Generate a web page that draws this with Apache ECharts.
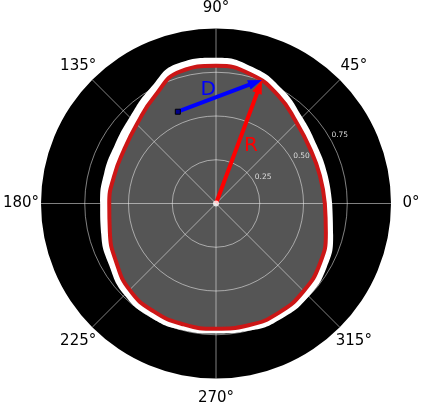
<!DOCTYPE html>
<html>
<head>
<meta charset="utf-8">
<script src="https://cdn.jsdelivr.net/npm/echarts@6/dist/echarts.min.js"></script>
<style>
html,body{margin:0;padding:0;background:#ffffff;}
#chart{width:423px;height:410px;}
</style>
</head>
<body>
<div id="chart"></div>
<script>
// ---- data ----
const angleTicks = [0, 45, 90, 135, 180, 225, 270, 315];
const radiusTicks = [0.25, 0.5, 0.75];
const shapeAngles = [0, 15, 30, 45, 60, 75, 90, 105, 120, 135, 150, 165, 180, 195, 210, 225, 240, 255, 270, 285, 300, 315, 330, 345, 360];
const boundaryR = [0.622, 0.615, 0.622, 0.652, 0.712, 0.765, 0.787, 0.782, 0.705, 0.640, 0.608, 0.603, 0.610, 0.628, 0.660, 0.698, 0.712, 0.715, 0.716, 0.720, 0.720, 0.708, 0.686, 0.650, 0.622];
const haloR = [0.664, 0.658, 0.665, 0.697, 0.755, 0.807, 0.833, 0.830, 0.757, 0.697, 0.668, 0.662, 0.662, 0.679, 0.705, 0.740, 0.750, 0.748, 0.743, 0.752, 0.757, 0.750, 0.730, 0.693, 0.664];
// arrows: [start radius, start angle, end radius, end angle]
const rArrow = [0, 0, 0.753, 69.6];
const dArrow = [0.568, 112.6, 0.753, 69.6];
const arrowLabels = ['R', 'D'];
const origin = [0, 0];

// ---- styles / layout ----
const CENTER = [216, 203.5];
const RADIUS = 175;
const FONT = 'DejaVu Sans';
const gridColor = 'rgba(255,255,255,0.5)';
const arrowStyles = [
  {color: '#ff0000', width: 4, headLen: 14, headHalf: 5, t: 0.5, off: 12.7, marker: false},
  {color: '#0000ff', width: 4, headLen: 14, headHalf: 5, t: 0.4, off: -9.5, marker: true}
];

const chart = echarts.init(document.getElementById('chart'));

function shapeData(rs) {
  return shapeAngles.map((a, i) => [rs[i], a]);
}

const option = {
  animation: false,
  backgroundColor: '#ffffff',
  polar: [
    {center: CENTER, radius: RADIUS},
    {center: CENTER, radius: RADIUS}
  ],
  angleAxis: [
    {polarIndex: 0, type: 'value', min: 0, max: 360, interval: 45, startAngle: 0, clockwise: false,
     axisLine: {show: false}, axisTick: {show: false}, axisLabel: {show: false}, splitLine: {show: false}},
    {polarIndex: 1, type: 'value', min: 0, max: 360, interval: 45, startAngle: 0, clockwise: false, z: 3,
     axisLine: {show: false}, axisTick: {show: false}, axisLabel: {show: false},
     splitLine: {show: true, lineStyle: {color: gridColor, width: 1}}}
  ],
  radiusAxis: [
    {polarIndex: 0, type: 'value', min: 0, max: 1, interval: 0.25, z: 0,
     axisLine: {show: false}, axisTick: {show: false}, axisLabel: {show: false}, splitLine: {show: false},
     splitArea: {show: true, areaStyle: {color: ['#000000']}}},
    {polarIndex: 1, type: 'value', min: 0, max: 1, interval: 0.25, z: 3,
     axisLine: {show: false}, axisTick: {show: false}, axisLabel: {show: false},
     splitLine: {show: true, lineStyle: {color: ['rgba(0,0,0,0)', gridColor, gridColor, gridColor, 'rgba(0,0,0,0)'], width: 1}}}
  ],
  series: [
    {
      name: 'halo', type: 'line', coordinateSystem: 'polar', polarIndex: 0, z: 1, silent: true,
      data: shapeData(haloR), smooth: true, showSymbol: false, symbol: 'none',
      lineStyle: {width: 0, opacity: 0}, areaStyle: {color: '#ffffff', opacity: 1}
    },
    {
      name: 'fill', type: 'line', coordinateSystem: 'polar', polarIndex: 0, z: 2, silent: true,
      data: shapeData(boundaryR), smooth: true, showSymbol: false, symbol: 'none',
      lineStyle: {width: 0, opacity: 0}, areaStyle: {color: '#555555', opacity: 1}
    },
    {
      name: 'boundary', type: 'line', coordinateSystem: 'polar', polarIndex: 0, z: 5, silent: true,
      data: shapeData(boundaryR), smooth: true, showSymbol: false, symbol: 'none',
      lineStyle: {color: '#cc1616', width: 4}
    },
    {
      name: 'arrows', type: 'custom', coordinateSystem: 'polar', polarIndex: 0, z: 6, clip: false, silent: true,
      data: [rArrow, dArrow],
      renderItem: function (params, api) {
        const st = arrowStyles[params.dataIndex];
        const p0 = api.coord([api.value(0), api.value(1)]);
        const p1 = api.coord([api.value(2), api.value(3)]);
        const dx = p1[0] - p0[0], dy = p1[1] - p0[1];
        const L = Math.hypot(dx, dy);
        const ux = dx / L, uy = dy / L;
        const nx = -uy, ny = ux;
        const bx = p1[0] - ux * st.headLen, by = p1[1] - uy * st.headLen;
        const children = [
          {type: 'line', shape: {x1: p0[0], y1: p0[1], x2: bx + ux * 2, y2: by + uy * 2},
           style: {stroke: st.color, lineWidth: st.width}},
          {type: 'polygon', shape: {points: [[p1[0], p1[1]], [bx + nx * st.headHalf, by + ny * st.headHalf], [bx - nx * st.headHalf, by - ny * st.headHalf]]},
           style: {fill: st.color}},
          {type: 'text', style: {
            text: arrowLabels[params.dataIndex],
            x: p0[0] + dx * st.t + nx * st.off, y: p0[1] + dy * st.t + ny * st.off,
            fill: st.color, fontSize: 20, fontFamily: FONT, align: 'center', verticalAlign: 'middle'}}
        ];
        if (st.marker) {
          children.push({type: 'rect', shape: {x: p0[0] - 2.5, y: p0[1] - 2.5, width: 5, height: 5},
            style: {fill: '#00008b', stroke: '#000000', lineWidth: 1}});
        }
        return {type: 'group', children: children};
      }
    },
    {
      name: 'origin', type: 'scatter', coordinateSystem: 'polar', polarIndex: 0, z: 7, silent: true,
      data: [origin], symbol: 'circle', symbolSize: 6, itemStyle: {color: '#ffffff'}
    },
    {
      name: 'angleLabels', type: 'custom', coordinateSystem: 'polar', polarIndex: 1, z: 7, clip: false, silent: true,
      data: angleTicks.map(a => [0, a]),
      renderItem: function (params, api) {
        const a = api.value(1);
        const p = api.coord([1.114, a]);
        return {type: 'text', style: {text: a + '°', x: p[0], y: p[1], fill: '#000000',
          fontSize: 15, fontFamily: FONT, align: 'center', verticalAlign: 'middle'}};
      }
    },
    {
      name: 'radiusLabels', type: 'custom', coordinateSystem: 'polar', polarIndex: 1, z: 7, clip: false, silent: true,
      data: radiusTicks.map(v => [v, 0]),
      renderItem: function (params, api) {
        const v = api.value(0);
        const p = api.coord([v + 0.058, 28.9]);
        return {type: 'text', style: {text: v.toFixed(2), x: p[0], y: p[1], fill: '#dddddd',
          fontSize: 7.5, fontFamily: FONT, align: 'center', verticalAlign: 'middle'}};
      }
    }
  ]
};
chart.setOption(option);
</script>
</body>
</html>
